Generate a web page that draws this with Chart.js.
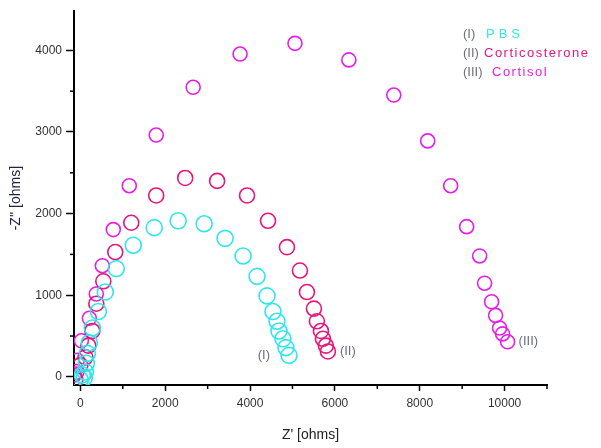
<!DOCTYPE html>
<html>
<head>
<meta charset="utf-8">
<script src="https://cdn.jsdelivr.net/npm/chart.js@4.4.1/dist/chart.umd.min.js"></script>
<style>
  html, body { margin: 0; padding: 0; background: #fff; }
  #wrap { width: 601px; height: 448px; }
</style>
</head>
<body>
<div id="wrap"><canvas id="nyquist" width="601" height="448"></canvas></div>
<script>
// valores (Z' e -Z'' em ohms)
const pbsZre = [0, 47, 94, 118, 141, 165, 212, 282, 424, 588, 847, 1247, 1741, 2306, 2918, 3412, 3835, 4165, 4400, 4541, 4635, 4682, 4776, 4847, 4918];
const pbsZim = [-36, 24, -12, 60, 167, 287, 418, 598, 800, 1039, 1326, 1613, 1828, 1912, 1876, 1697, 1481, 1231, 992, 800, 681, 562, 466, 358, 263];

const corticoZre = [-118, -94, 0, 118, 188, 282, 376, 541, 823, 1200, 1788, 2471, 3224, 3929, 4424, 4870, 5176, 5341, 5506, 5576, 5671, 5718, 5788, 5835];
const corticoZim = [-36, 60, 143, 239, 382, 562, 896, 1171, 1529, 1888, 2222, 2437, 2401, 2222, 1912, 1589, 1302, 1039, 836, 681, 562, 466, 382, 311];

const cortisolZre = [-141, -71, 24, 212, 376, 518, 776, 1153, 1788, 2659, 3765, 5059, 6329, 7388, 8188, 8729, 9106, 9412, 9529, 9694, 9788, 9882, 9953, 10071];
const cortisolZim = [24, 203, 442, 717, 1015, 1362, 1804, 2342, 2963, 3548, 3955, 4086, 3883, 3453, 2891, 2342, 1840, 1481, 1147, 920, 753, 598, 526, 430];

const xTicks = [0, 2000, 4000, 6000, 8000, 10000];
const yTicks = [0, 1000, 2000, 3000, 4000];
const xMinor = [1000, 3000, 5000, 7000, 9000, 11000];
const yMinor = [500, 1500, 2500, 3500];

const nomes = ['PBS', 'Corticosterone', 'Cortisol'];
const rotulos = ['(I)', '(II)', '(III)'];
const cores = ['#2ee6ee', '#e8157a', '#e61ee6'];

function pontos(xs, ys) {
  return xs.map(function (v, i) { return { x: v, y: ys[i] }; });
}

// plugin p/ desenhar ticks menores, legenda e rótulos
const extras = {
  id: 'extras',
  afterDraw: function (chart) {
    const ctx = chart.ctx;
    const sx = chart.scales.x, sy = chart.scales.y;
    const area = chart.chartArea;
    ctx.save();
    ctx.strokeStyle = '#000';
    ctx.lineWidth = 1.5;
    xMinor.forEach(function (v) {
      const p = sx.getPixelForValue(v);
      ctx.beginPath(); ctx.moveTo(p, area.bottom); ctx.lineTo(p, area.bottom + 4); ctx.stroke();
    });
    yMinor.forEach(function (v) {
      const p = sy.getPixelForValue(v);
      ctx.beginPath(); ctx.moveTo(area.left, p); ctx.lineTo(area.left - 4, p); ctx.stroke();
    });

    // legenda
    ctx.font = '13px "Liberation Sans", Arial, sans-serif';
    ctx.textBaseline = 'middle';
    const linhas = [34, 53, 72];
    const xNome = [486, 484, 492];
    for (let i = 0; i < 3; i++) {
      ctx.letterSpacing = '0px';
      ctx.fillStyle = '#6e6e7c';
      ctx.textAlign = 'left';
      ctx.fillText(rotulos[i], 463, linhas[i]);
      ctx.letterSpacing = i === 0 ? '4px' : '1.5px';
      ctx.fillStyle = cores[i];
      ctx.fillText(nomes[i], xNome[i], linhas[i]);
    }
    ctx.letterSpacing = '0px';

    // rótulos no fim de cada curva
    const fins = [
      [pbsZre, pbsZim, -19, 'right'],
      [corticoZre, corticoZim, 12, 'left'],
      [cortisolZre, cortisolZim, 11, 'left']
    ];
    ctx.fillStyle = '#6e6e7c';
    fins.forEach(function (f, i) {
      const n = f[0].length - 1;
      const px = sx.getPixelForValue(f[0][n]) + f[2];
      const py = sy.getPixelForValue(f[1][n]);
      ctx.textAlign = f[3];
      ctx.fillText(rotulos[i], px, py);
    });
    ctx.restore();
  }
};

const fonteTick = { family: '"Liberation Sans", Arial, sans-serif', size: 12 };
const semVirgula = function (v) { return String(v); };

const ctx = document.getElementById('nyquist').getContext('2d');
const grafico = new Chart(ctx, {
  type: 'scatter',
  data: {
    datasets: [
      { label: nomes[0], data: pontos(pbsZre, pbsZim), borderColor: cores[0], backgroundColor: 'rgba(0,0,0,0)', pointRadius: 8, borderWidth: 1.6 },
      { label: nomes[1], data: pontos(corticoZre, corticoZim), borderColor: cores[1], backgroundColor: 'rgba(0,0,0,0)', pointRadius: 7.5, borderWidth: 1.6 },
      { label: nomes[2], data: pontos(cortisolZre, cortisolZim), borderColor: cores[2], backgroundColor: 'rgba(0,0,0,0)', pointRadius: 7, borderWidth: 1.6 }
    ]
  },
  options: {
    responsive: false,
    animation: false,
    layout: { padding: { top: 2, right: 54, left: 0, bottom: 0 } },
    plugins: { legend: { display: false }, tooltip: { enabled: false } },
    scales: {
      x: {
        type: 'linear',
        min: -150,
        max: 11000,
        afterBuildTicks: function (s) { s.ticks = xTicks.map(function (v) { return { value: v }; }); },
        afterFit: function (s) { s.height = 63; },
        border: { display: true, color: '#000', width: 2 },
        grid: { drawOnChartArea: false, drawTicks: true, tickLength: 6, tickColor: '#000', tickWidth: 1.5 },
        ticks: { color: '#333', font: fonteTick, padding: 5, maxRotation: 0, callback: semVirgula },
        title: { display: true, text: "Z' [ohms]", color: '#222', font: { family: '"Liberation Sans", Arial, sans-serif', size: 14 }, padding: { top: 13 } }
      },
      y: {
        type: 'linear',
        min: -100,
        max: 4480,
        afterBuildTicks: function (s) { s.ticks = yTicks.map(function (v) { return { value: v }; }); },
        afterFit: function (s) { s.width = 74; },
        border: { display: true, color: '#000', width: 2 },
        grid: { drawOnChartArea: false, drawTicks: true, tickLength: 8, tickColor: '#000', tickWidth: 1.5 },
        ticks: { color: '#333', font: fonteTick, padding: 4, callback: semVirgula },
        title: { display: true, text: "-Z'' [ohms]", color: '#222244', font: { family: '"Liberation Sans", Arial, sans-serif', size: 14 }, padding: { top: 8, bottom: 0 } }
      }
    }
  },
  plugins: [extras]
});
</script>
</body>
</html>
